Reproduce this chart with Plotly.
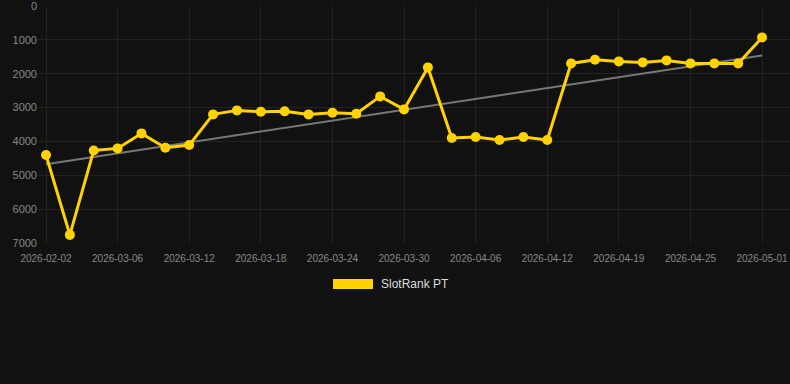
import numpy as np
import plotly.graph_objects as go

dates = ["2026-02-02", "2026-03-02", "2026-03-04", "2026-03-06", "2026-03-08", "2026-03-10",
         "2026-03-12", "2026-03-14", "2026-03-16", "2026-03-18", "2026-03-20", "2026-03-22",
         "2026-03-24", "2026-03-26", "2026-03-28", "2026-03-30", "2026-04-02", "2026-04-04",
         "2026-04-06", "2026-04-08", "2026-04-10", "2026-04-12", "2026-04-14", "2026-04-16",
         "2026-04-19", "2026-04-21", "2026-04-23", "2026-04-25", "2026-04-27", "2026-04-29",
         "2026-05-01"]
rank = [4400, 6760, 4265, 4205, 3762, 4185, 4106, 3200, 3082, 3122, 3111, 3200, 3151, 3180,
        2669, 3053, 1812, 3900, 3870, 3958, 3870, 3958, 1694, 1585, 1635, 1664, 1605, 1694,
        1694, 1694, 926]
tick_labels = dates[::3]
y_ticks = [0, 1000, 2000, 3000, 4000, 5000, 6000, 7000]
series_name = "SlotRank PT"

idx = np.arange(len(dates))
slope, intercept = np.polyfit(idx, rank, 1)
trend = slope * idx + intercept

YELLOW = "#FFD200"
BG = "#111111"
GRID = "#222222"

fig = go.Figure()
fig.add_trace(go.Scatter(x=dates, y=trend, mode="lines",
                         line=dict(color="#777777", width=2), showlegend=False, hoverinfo="skip"))
fig.add_trace(go.Scatter(x=dates, y=rank, mode="lines+markers", name=series_name,
                         line=dict(color=YELLOW, width=3),
                         marker=dict(color=YELLOW, size=10), showlegend=False))

# legend (manual)
fig.add_shape(type="rect", xref="paper", yref="paper", x0=0.3923, x1=0.4455, y0=-0.1519, y1=-0.1941,
              fillcolor=YELLOW, line=dict(width=0))
fig.add_annotation(text=series_name, xref="paper", yref="paper", x=0.4535, y=-0.173,
                   xanchor="left", yanchor="middle", showarrow=False,
                   font=dict(family="Arial, Liberation Sans, sans-serif", size=12, color="#dddddd"))

fig.update_layout(
    width=790, height=384,
    margin=dict(l=38, r=0, t=6, b=141),
    paper_bgcolor=BG, plot_bgcolor=BG,
    font=dict(family="Arial, Liberation Sans, sans-serif"),
    xaxis=dict(type="category", range=[-0.335, 31.17], tickmode="array",
               tickvals=tick_labels, ticktext=tick_labels,
               tickfont=dict(size=10, color="#888888"),
               showgrid=True, gridcolor=GRID, gridwidth=1, zeroline=False,
               showline=False, ticks="outside", ticklen=6, tickcolor=BG),
    yaxis=dict(range=[7000, -2], tickmode="array", tickvals=y_ticks,
               tickfont=dict(size=11, color="#888888"),
               showgrid=True, gridcolor=GRID, gridwidth=1, zeroline=False,
               showline=False, ticklabeloverflow="allow"),
)

fig.write_html("out.html")
